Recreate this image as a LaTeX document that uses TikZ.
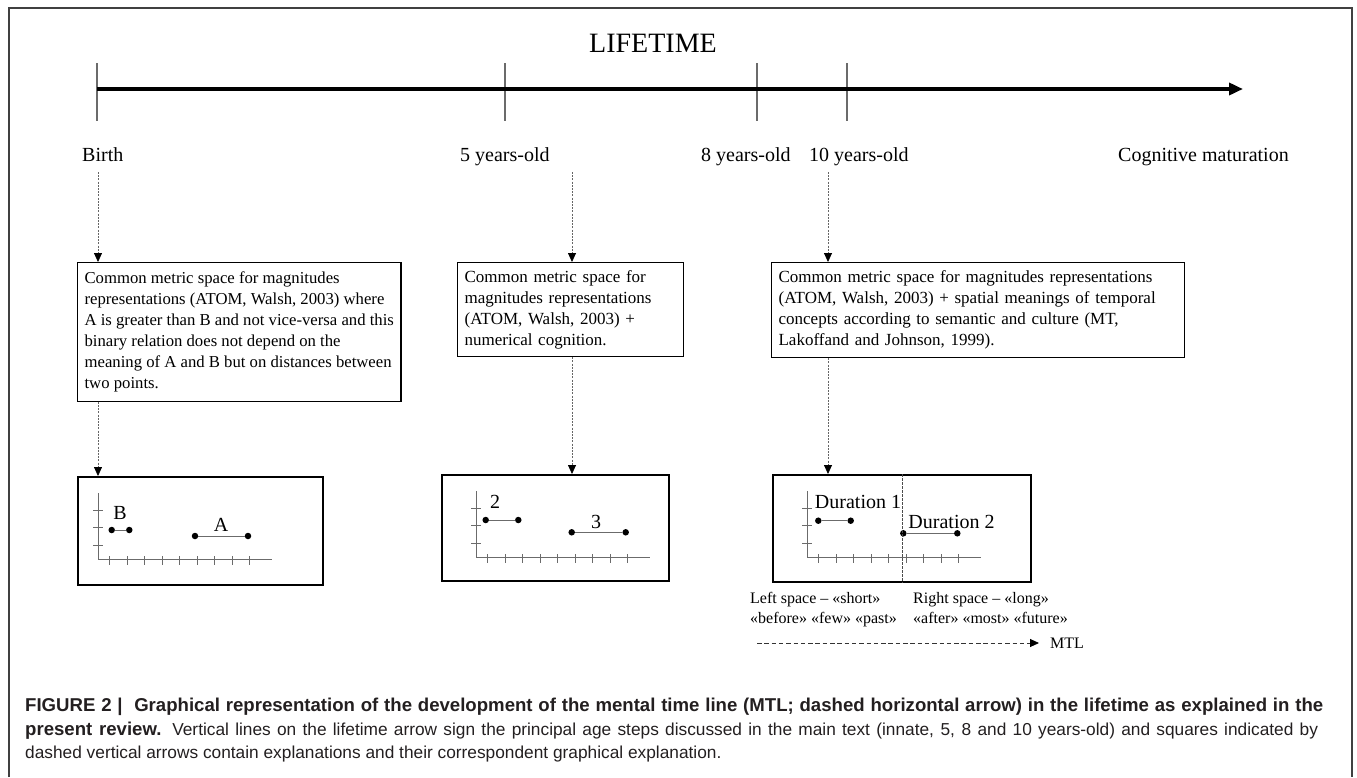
\documentclass[tikz,border=0pt]{standalone}
\usepackage{fontspec}
\setmainfont{Liberation Serif}
\newfontfamily\capfont{Liberation Sans}
\usetikzlibrary{arrows.meta,positioning}
\definecolor{axisgray}{gray}{0.42}
\definecolor{capink}{HTML}{231F20}

\begin{document}
\begin{tikzpicture}[x=1pt,y=-1pt,
  every node/.style={inner sep=0pt},
  frame/.style={draw=black!75,line width=1.4pt},
  stopline/.style={axisgray,line width=1.2pt},
  conn/.style={black!60,line width=0.8pt,dash pattern=on 2pt off 1.2pt,
    -{Triangle[length=9pt,width=8pt,color=black]}},
  agelabel/.style={anchor=base west,font=\fontsize{20}{24}\selectfont},
  explbox/.style={draw,line width=1.2pt,align=left,anchor=north west,
    inner xsep=7pt,font=\fontsize{17}{21}\selectfont},
  graphbox/.style={draw,line width=1.6pt,anchor=north west},
  axis/.style={axisgray,line width=1pt},
  dot/.style={circle,fill=black,minimum size=6.5pt},
  seg/.style={axisgray,line width=1pt},
  glabel/.style={font=\fontsize{20}{24}\selectfont},
  spacetext/.style={align=left,anchor=north west,font=\fontsize{16}{20}\selectfont},
  mtlarrow/.style={black!80,line width=0.9pt,dash pattern=on 4.5pt off 2.8pt,
    -{Triangle[length=9pt,width=8pt,color=black]}},
  captext/.style={anchor=base west,text=capink,font=\capfont\fontsize{17.3}{21}\selectfont}]
\useasboundingbox (0,0) rectangle (1357,777);
\draw[frame] (9,777) -- (9,8) -- (1352,8) -- (1352,777);

% lifetime arrow
\node[font=\fontsize{28}{32}\selectfont,anchor=base] (title) at (653,52) {LIFETIME};
\foreach \tx in {97,505,757,847}
  \draw[stopline] (\tx,63) -- (\tx,121);
\coordinate (t0) at (97,89);
\coordinate (tend) at (1243,89);
\draw[line width=4pt,-{Triangle[length=14pt,width=12pt]}] (t0) -- (tend);

\node[agelabel] (birth) at (82,161.5) {Birth};
\node[agelabel] (five) at (460,161.5) {5 years-old};
\node[agelabel] (eight) at (701,161.5) {8 years-old};
\node[agelabel] (ten) at (809,161.5) {10 years-old};
\node[agelabel] (mature) at (1118,161.5) {Cognitive maturation};

% explanations
\node[explbox,font=\fontsize{16.7}{21}\selectfont,minimum height=138.5pt] (expl1) at (77,262)
  {Common metric space for magnitudes\\
   representations (ATOM, Walsh, 2003) where\\
   A is greater than B and not vice-versa and this\\
   binary relation does not depend on the\\
   meaning of A and B but on distances between\\
   two points.};
\node[explbox,text width=212pt,minimum height=94pt] (expl2) at (457,262)
  {Common metric space for\\
   magnitudes representations\\
   (ATOM, Walsh, 2003) +\\
   numerical cognition.};
\node[explbox,text width=399pt,minimum height=95pt] (expl3) at (771,262)
  {Common metric space for magnitudes representations\\
   (ATOM, Walsh, 2003) + spatial meanings of temporal\\
   concepts according to semantic and culture (MT,\\
   Lakoffand and Johnson, 1999).};

% graphical boxes
\node[graphbox,minimum width=245pt,minimum height=108pt] (graph1) at (77,476) {};
\node[graphbox,minimum width=227pt,minimum height=106pt] (graph2) at (441,474) {};
\node[graphbox,minimum width=258pt,minimum height=107pt] (graph3) at (772,474) {};

% dashed arrows
\coordinate (a1) at (98,172);
\coordinate (a2) at (572,172);
\coordinate (a3) at (828,172);
\draw[conn] (a1) -- (a1 |- expl1.north);
\draw[conn] (a1 |- expl1.south) -- (a1 |- graph1.north);
\draw[conn] (a2) -- (a2 |- expl2.north);
\draw[conn] (a2 |- expl2.south) -- (a2 |- graph2.north);
\draw[conn] (a3) -- (a3 |- expl3.north);
\draw[conn] (a3 |- expl3.south) -- (a3 |- graph3.north);

% axes
\foreach \ox/\oy in {98/559,476/557,807/557}{
  \draw[axis] (\ox,\oy-66) -- (\ox,\oy) -- (\ox+174,\oy);
  \foreach \dy in {14,31.5,49}
    \draw[axis] (\ox-5,\oy-\dy) -- (\ox+5,\oy-\dy);
  \foreach \k in {0,...,8}
    \draw[axis] (\ox+11.5+17.55*\k,\oy-3) -- (\ox+11.5+17.55*\k,\oy+6);
}

% segments
\node[dot] (b1) at (111.7,530) {};
\node[dot] (b2) at (129.3,530) {};
\node[dot] (c1) at (195,536) {};
\node[dot] (c2) at (248,536) {};
\draw[seg] (b1) -- (b2);
\draw[seg] (c1) -- (c2);
\node[glabel] (lblB) at (120,513) {B};
\node[glabel] (lblA) at (221,525) {A};

\node[dot] (d1) at (485.7,520) {};
\node[dot] (d2) at (518.3,520) {};
\node[dot] (e1) at (571.7,532.3) {};
\node[dot] (e2) at (625.7,532.3) {};
\draw[seg] (d1) -- (d2);
\draw[seg] (e1) -- (e2);
\node[glabel] (lbltwo) at (495,502) {2};
\node[glabel] (lblthree) at (596,522) {3};

\node[dot] (f1) at (818.3,520.7) {};
\node[dot] (f2) at (850.7,520.7) {};
\node[dot] (g1) at (903.3,533.3) {};
\node[dot] (g2) at (957.3,533.3) {};
\draw[seg] (f1) -- (f2);
\draw[seg] (g1) -- (g2);
\node[glabel] (dur1) at (858,502) {Duration 1};
\node[glabel] (dur2) at (951.5,522) {Duration 2};
\coordinate (split) at (902,0);
\draw[black!70,line width=0.8pt,dash pattern=on 2.5pt off 1.5pt]
  (split |- graph3.north) -- (split |- graph3.south);

% mental time line
\node[spacetext] (leftsp) at (750,592) {Left space -- «short»\\«before» «few» «past»};
\node[spacetext] (rightsp) at (913,592) {Right space -- «long»\\«after» «most» «future»};
\coordinate (mtlstart) at (757,643);
\node[anchor=west,inner xsep=11pt,font=\fontsize{16}{20}\selectfont] (mtl) at (1039,643) {MTL};
\draw[mtlarrow] (mtlstart) -- (mtl);

% caption
\node[captext] (cap1) at (25,711) {\makebox[1298pt][s]{\fontsize{18.6}{21}\selectfont\textbf{FIGURE 2 |\ \ Graphical representation of the development of the mental time line (MTL; dashed horizontal arrow) in the lifetime as explained in the}}};
\node[captext] (cap2) at (25,735) {\makebox[1293pt][s]{{\fontsize{18.6}{21}\selectfont\textbf{present review.}} Vertical lines on the lifetime arrow sign the principal age steps discussed in the main text (innate, 5, 8 and 10 years-old) and squares indicated by}};
\node[captext] (cap3) at (25,758) {dashed vertical arrows contain explanations and their correspondent graphical explanation.};
\end{tikzpicture}
\end{document}
